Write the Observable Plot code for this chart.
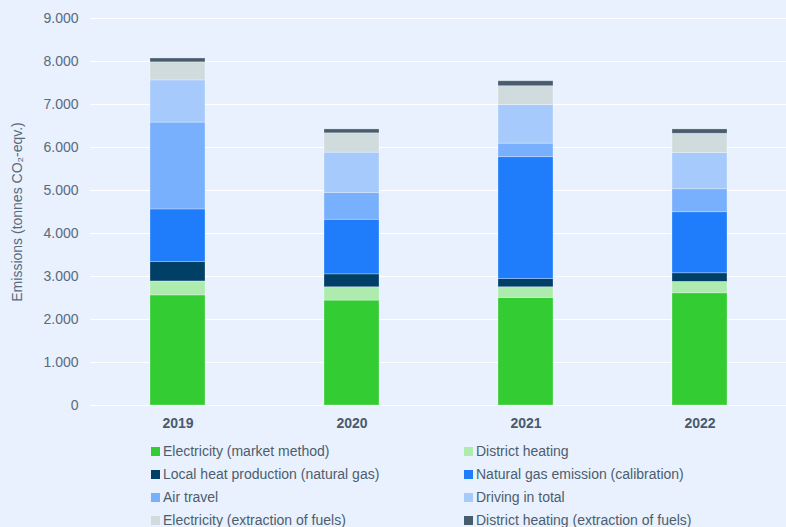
<!DOCTYPE html>
<html>
<head>
<meta charset="utf-8">
<script src="https://cdn.jsdelivr.net/npm/d3@7"></script>
<script src="https://cdn.jsdelivr.net/npm/@observablehq/plot@0.6"></script>
<style>
  html, body { margin: 0; padding: 0; background: #e8f1fd; }
  body { width: 786px; height: 527px; overflow: hidden; font-family: "Liberation Sans", Arial, sans-serif; }
  #chart svg { display: block; background: #e8f1fd; }
  #legend { position: relative; width: 786px; height: 89px; }
  .item { position: absolute; display: flex; align-items: center; height: 16px; font-size: 14px; color: #4d5d6e; white-space: nowrap; }
  .sw { width: 9px; height: 9px; margin-right: 3px; flex: none; }
</style>
</head>
<body>
<div id="chart"></div>
<div id="legend"></div>
<script>
const years = ["2019", "2020", "2021", "2022"];
const seriesNames = [
  "Electricity (market method)",
  "District heating",
  "Local heat production (natural gas)",
  "Natural gas emission (calibration)",
  "Air travel",
  "Driving in total",
  "Electricity (extraction of fuels)",
  "District heating (extraction of fuels)"
];
const seriesColors = ["#33cc33", "#aeebae", "#003f66", "#1f7cfa", "#79b0fd", "#a7cafd", "#cfdbdd", "#475c6f"];

const electricity = [2560, 2440, 2500, 2610];
const districtHeating = [325, 310, 250, 265];
const localHeat = [455, 300, 190, 200];
const naturalGas = [1220, 1270, 2835, 1420];
const airTravel = [2020, 620, 315, 535];
const driving = [980, 940, 900, 840];
const elecExtraction = [420, 450, 435, 450];
const dhExtraction = [90, 90, 115, 100];
const yTicks = [0, 1000, 2000, 3000, 4000, 5000, 6000, 7000, 8000, 9000];

const seriesValues = [electricity, districtHeating, localHeat, naturalGas, airTravel, driving, elecExtraction, dhExtraction];
const data = [];
seriesNames.forEach((s, i) => years.forEach((y, j) => data.push({year: y, series: s, value: seriesValues[i][j]})));

const fmt = d3.formatLocale({decimal: ",", thousands: ".", grouping: [3], currency: ["", ""]}).format(",");

const chart = Plot.plot({
  width: 786,
  height: 438,
  marginLeft: 90,
  marginRight: 0,
  marginTop: 18,
  marginBottom: 33,
  style: {fontFamily: "'Liberation Sans', Arial, sans-serif", background: "#e8f1fd"},
  x: {domain: years, paddingInner: 0.685, paddingOuter: 0.3425, label: null},
  y: {domain: [0, 9000], label: null},
  color: {domain: seriesNames, range: seriesColors},
  marks: [
    Plot.gridY(yTicks, {stroke: "#ffffff", strokeOpacity: 1, strokeWidth: 1.2}),
    Plot.barY(data, Plot.stackY({x: "year", y: "value", fill: "series", stroke: "#ffffff", strokeOpacity: 0.35, strokeWidth: 0.8})),
    Plot.axisY(yTicks, {tickSize: 0, tickPadding: 12, tickFormat: fmt, fontSize: 14, fill: "#5a6a7b", label: null}),
    Plot.axisX({tickSize: 0, tickPadding: 13, fontSize: 14, fontWeight: "bold", fill: "#4a5a6b", label: null}),
    Plot.text(["Emissions (tonnes CO₂-eqv.)"], {frameAnchor: "left", textAnchor: "middle", dx: -73, rotate: -90, fontSize: 14, fill: "#5a6a7b"})
  ]
});
document.getElementById("chart").appendChild(chart);

const legend = document.getElementById("legend");
const rowTops = [13, 36, 59, 82];
const colLefts = [151, 464];
seriesNames.forEach((s, i) => {
  const el = document.createElement("div");
  el.className = "item";
  el.style.left = colLefts[i % 2] + "px";
  el.style.top = (rowTops[Math.floor(i / 2)] - 8) + "px";
  const sw = document.createElement("span");
  sw.className = "sw";
  sw.style.background = seriesColors[i];
  el.appendChild(sw);
  el.appendChild(document.createTextNode(s));
  legend.appendChild(el);
});
</script>
</body>
</html>
